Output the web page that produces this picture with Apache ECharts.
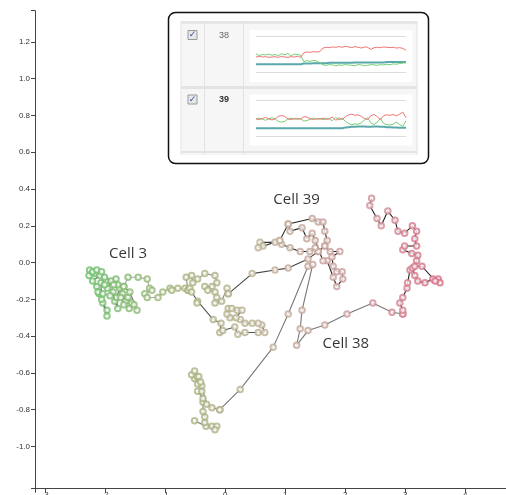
<!DOCTYPE html>
<html>
<head>
<meta charset="utf-8">
<script src="https://cdn.jsdelivr.net/npm/echarts@6/dist/echarts.min.js"></script>
<style>
  html, body { margin: 0; padding: 0; background: #fff; overflow: hidden; }
  #chart { width: 506px; height: 495px; }
</style>
</head>
<body>
<div id="chart"></div>
<script>
// --- track pieces, [x, y] ---
const cell3Cluster = [[-2.26,-0.04],[-2.27,-0.07],[-2.17,-0.06],[-2.09,-0.07],[-2.21,-0.10],[-2.14,-0.13],[-2.10,-0.17],[-2.04,-0.22],[-1.97,-0.26],[-1.97,-0.29],[-2.06,-0.20],[-2.07,-0.11],[-1.99,-0.10],[-2.01,-0.08],[-1.90,-0.10],[-1.96,-0.14],[-1.87,-0.16],[-1.84,-0.21],[-1.79,-0.25],[-1.81,-0.19],[-1.76,-0.14],[-1.79,-0.12],[-1.71,-0.17],[-1.66,-0.21],[-1.62,-0.19],[-1.56,-0.22],[-1.47,-0.26],[-1.59,-0.16],[-1.69,-0.13]];
const cell3Extra = [[-2.21,-0.05],[-2.14,-0.04],[-2.06,-0.05],[-2.01,-0.12],[-2.12,-0.16],[-2.04,-0.17],[-1.92,-0.18],[-1.86,-0.12],[-1.82,-0.09],[-1.74,-0.19],[-1.69,-0.23],[-1.60,-0.25],[-1.52,-0.23]];
const cell3Trail = [[-1.69,-0.13],[-1.62,-0.08],[-1.45,-0.08],[-1.30,-0.09],[-1.26,-0.14],[-1.22,-0.15],[-1.34,-0.17],[-1.30,-0.19],[-1.12,-0.19],[-1.04,-0.16],[-0.92,-0.14],[-0.89,-0.15],[-0.79,-0.14],[-0.67,-0.14],[-0.62,-0.15]];
const oliveUpper = [[-0.62,-0.15],[-0.59,-0.14],[-0.65,-0.08],[-0.56,-0.07],[-0.54,-0.11],[-0.46,-0.09],[-0.34,-0.06],[-0.17,-0.07],[-0.14,-0.11],[-0.22,-0.13],[-0.34,-0.13],[-0.29,-0.15],[-0.17,-0.16],[-0.14,-0.19],[-0.17,-0.22],[-0.06,-0.21],[0.03,-0.14],[0.05,-0.17]];
const oliveToCell39 = [[0.05,-0.17],[0.45,-0.06],[0.83,-0.04],[1.05,-0.03],[1.38,0.02],[1.55,0.06]];
const oliveLower = [[-0.56,-0.16],[-0.46,-0.21],[-0.47,-0.22],[-0.20,-0.31],[-0.07,-0.33],[-0.09,-0.38],[-0.04,-0.37],[0.16,-0.35],[0.21,-0.39],[0.33,-0.38],[0.55,-0.38],[0.66,-0.38],[0.61,-0.34],[0.55,-0.33],[0.45,-0.33],[0.33,-0.33],[0.25,-0.31],[0.08,-0.30],[0.03,-0.28],[0.05,-0.25],[0.11,-0.25],[0.20,-0.26],[0.28,-0.26],[0.18,-0.30]];
const bottomCluster = [[-0.51,-0.86],[-0.32,-0.89],[-0.22,-0.89],[-0.14,-0.89],[-0.17,-0.91],[-0.34,-0.87],[-0.34,-0.84],[-0.37,-0.81],[-0.37,-0.76],[-0.37,-0.74],[-0.46,-0.70],[-0.39,-0.70],[-0.39,-0.67],[-0.46,-0.66],[-0.51,-0.63],[-0.47,-0.62],[-0.56,-0.61],[-0.51,-0.59],[-0.44,-0.62],[-0.41,-0.65],[-0.31,-0.77],[-0.22,-0.79],[-0.09,-0.80]];
const cell38Path = [[-0.09,-0.80],[0.25,-0.69],[0.80,-0.46],[1.05,-0.28],[1.38,-0.02],[1.46,-0.01],[1.28,-0.26],[1.25,-0.36],[1.19,-0.45],[1.38,-0.37],[1.66,-0.34],[2.03,-0.28],[2.46,-0.22],[2.78,-0.27],[2.96,-0.28]];
const pinkCluster = [[2.96,-0.28],[2.96,-0.26],[2.91,-0.22],[2.96,-0.19],[3.03,-0.14],[3.04,-0.11],[3.08,-0.04],[3.12,-0.03],[3.16,-0.07],[3.21,-0.10],[3.33,-0.11],[3.46,-0.09],[3.55,-0.09],[3.58,-0.11],[3.50,-0.10],[3.28,-0.02],[3.16,-0.02],[3.19,0.01],[3.21,0.04],[3.11,0.05],[2.96,0.07],[2.99,0.09],[3.19,0.09],[3.16,0.13],[3.19,0.17],[3.12,0.20],[2.99,0.16],[2.88,0.17],[2.83,0.23],[2.71,0.28],[2.60,0.20],[2.53,0.24],[2.41,0.31],[2.44,0.35]];
const cell39Cluster = [[1.55,0.06],[1.66,0.09],[1.75,0.06],[1.91,0.06],[1.78,0.03],[1.80,-0.02],[1.86,-0.05],[1.95,-0.05],[1.96,-0.09],[1.86,-0.13],[1.80,-0.08],[1.70,0.01],[1.63,0.01],[1.50,0.12],[1.45,0.16],[1.36,0.13],[1.28,0.19],[1.08,0.17],[1.05,0.21],[1.45,0.24],[1.55,0.22],[1.63,0.22],[1.66,0.17],[1.70,0.12],[1.66,0.09]];
const cell39Left = [[1.50,0.08],[1.41,0.06],[1.25,0.06],[1.08,0.08],[0.94,0.10],[0.91,0.12],[0.83,0.11],[0.58,0.11],[0.63,0.09],[0.55,0.08],[0.91,0.12],[1.05,0.21]];

// 注释标签
const cellLabels = [
  { name: 'Cell 3', value: [-1.62, 0.05] },
  { name: 'Cell 39', value: [1.19, 0.34] },
  { name: 'Cell 38', value: [2.01, -0.44] }
];

// axis ticks (with the two outer ticks at the axis ends)
const xMin = -3.17, xMax = 4.68;
const yMin = -1.23, yMax = 1.37;
const xTickLabels = [-3, -2, -1, 0, 1, 2, 3, 4];
const yTickLabels = [-1.0, -0.8, -0.6, -0.4, -0.2, 0.0, 0.2, 0.4, 0.6, 0.8, 1.0, 1.2];

// --- inset sparklines (38 / 39) ---
const red38 = [0.43,0.45,0.43,0.44,0.42,0.43,0.44,0.42,0.45,0.43,0.42,0.44,0.43,0.45,0.42,0.55,0.57,0.56,0.58,0.57,0.58,0.68,0.70,0.69,0.71,0.70,0.72,0.70,0.73,0.71,0.69,0.72,0.70,0.68,0.71,0.70,0.64,0.69,0.70,0.69,0.71,0.70,0.69,0.70,0.68,0.69,0.67,0.62];
const green38 = [0.52,0.47,0.50,0.49,0.51,0.48,0.50,0.47,0.52,0.49,0.53,0.46,0.51,0.50,0.48,0.30,0.33,0.31,0.34,0.32,0.27,0.21,0.20,0.22,0.21,0.19,0.21,0.20,0.22,0.21,0.20,0.19,0.22,0.21,0.19,0.20,0.22,0.21,0.20,0.22,0.21,0.23,0.22,0.24,0.23,0.25,0.26,0.27];
const teal38 = [0.23,0.23,0.23,0.23,0.23,0.23,0.23,0.23,0.23,0.23,0.23,0.23,0.23,0.23,0.23,0.25,0.25,0.25,0.26,0.26,0.26,0.26,0.26,0.27,0.27,0.27,0.27,0.27,0.27,0.27,0.27,0.28,0.28,0.28,0.28,0.28,0.28,0.28,0.28,0.28,0.28,0.29,0.29,0.29,0.29,0.29,0.29,0.29];
const red39 = [0.49,0.47,0.50,0.53,0.49,0.46,0.49,0.56,0.58,0.56,0.49,0.47,0.50,0.48,0.49,0.55,0.54,0.49,0.47,0.50,0.48,0.51,0.47,0.50,0.54,0.45,0.52,0.47,0.55,0.60,0.62,0.59,0.60,0.56,0.50,0.47,0.58,0.61,0.55,0.47,0.58,0.60,0.59,0.61,0.57,0.62,0.68,0.52];
const green39 = [0.49,0.51,0.48,0.45,0.49,0.52,0.49,0.42,0.40,0.42,0.49,0.51,0.48,0.50,0.49,0.43,0.44,0.49,0.51,0.48,0.50,0.47,0.51,0.48,0.44,0.53,0.46,0.51,0.42,0.36,0.33,0.35,0.34,0.38,0.46,0.52,0.38,0.33,0.40,0.50,0.36,0.33,0.32,0.34,0.40,0.33,0.28,0.44];
const teal39 = [0.23,0.23,0.23,0.23,0.23,0.23,0.23,0.23,0.23,0.23,0.23,0.23,0.23,0.23,0.23,0.23,0.23,0.23,0.23,0.23,0.23,0.23,0.23,0.23,0.23,0.23,0.23,0.23,0.25,0.26,0.27,0.27,0.28,0.28,0.28,0.27,0.27,0.28,0.28,0.27,0.27,0.26,0.26,0.25,0.25,0.24,0.24,0.24];
const insetRows = ['38', '39'];

const chart = echarts.init(document.getElementById('chart'), null, { width: 506, height: 495 });

// 连线：深色为簇内，浅色为长距离移动
const pieces = [
  { data: cell3Cluster, color: '#666' },
  { data: cell3Extra, color: '#aaa' },
  { data: cell3Trail, color: '#a8a8a8' },
  { data: oliveUpper, color: '#8a8a8a' },
  { data: oliveToCell39, color: '#444' },
  { data: oliveLower, color: '#555' },
  { data: bottomCluster, color: '#777' },
  { data: cell38Path, color: '#777' },
  { data: pinkCluster, color: '#222' },
  { data: cell39Cluster, color: '#222' },
  { data: cell39Left, color: '#333' }
];

const lineSeries = pieces.map(p => ({
  type: 'line',
  data: p.data,
  symbol: 'none',
  silent: true,
  lineStyle: { color: p.color, width: 1.1 },
  z: 2
}));

const allPoints = [];
pieces.forEach(p => p.data.forEach(d => allPoints.push(d)));

const pointIndex = lineSeries.length;

const toPairs = arr => arr.map((v, i) => [i, v]);
const sparkLine = (arr, color, width, idx) => ({
  type: 'line',
  data: toPairs(arr),
  xAxisIndex: idx,
  yAxisIndex: idx,
  symbol: 'none',
  silent: true,
  lineStyle: { color: color, width: width },
  z: 3
});

const labelFont = 'Liberation Sans, Arial, sans-serif';

// --- inset box / table as graphic ---
const inset = [
  { type: 'rect', shape: { x: 168.5, y: 12.5, width: 260, height: 151, r: 7 }, style: { fill: '#fff', stroke: '#111', lineWidth: 1.5 } },
  { type: 'rect', shape: { x: 181, y: 21, width: 236, height: 134 }, style: { fill: '#f6f6f6' } },
  { type: 'rect', shape: { x: 249.5, y: 30, width: 163, height: 52 }, style: { fill: '#fff' } },
  { type: 'rect', shape: { x: 249.5, y: 94.5, width: 163, height: 51 }, style: { fill: '#fff' } },
  { type: 'line', shape: { x1: 181, y1: 22.5, x2: 417, y2: 22.5 }, style: { stroke: '#e6e6e6', lineWidth: 3 } },
  { type: 'line', shape: { x1: 181, y1: 87.5, x2: 417, y2: 87.5 }, style: { stroke: '#e4e4e4', lineWidth: 3 } },
  { type: 'line', shape: { x1: 181, y1: 152, x2: 417, y2: 152 }, style: { stroke: '#e4e4e4', lineWidth: 2 } },
  { type: 'line', shape: { x1: 181, y1: 21, x2: 181, y2: 155 }, style: { stroke: '#e2e2e2', lineWidth: 1 } },
  { type: 'line', shape: { x1: 204.5, y1: 21, x2: 204.5, y2: 155 }, style: { stroke: '#e2e2e2', lineWidth: 1 } },
  { type: 'line', shape: { x1: 243.5, y1: 21, x2: 243.5, y2: 155 }, style: { stroke: '#e2e2e2', lineWidth: 1 } },
  { type: 'line', shape: { x1: 417, y1: 21, x2: 417, y2: 155 }, style: { stroke: '#e2e2e2', lineWidth: 1 } },
  // sparkline guide lines
  { type: 'line', shape: { x1: 256, y1: 36.5, x2: 406, y2: 36.5 }, style: { stroke: '#dcdcdc', lineWidth: 1 } },
  { type: 'line', shape: { x1: 256, y1: 72.5, x2: 406, y2: 72.5 }, style: { stroke: '#dcdcdc', lineWidth: 1 } },
  { type: 'line', shape: { x1: 256, y1: 100.5, x2: 406, y2: 100.5 }, style: { stroke: '#dcdcdc', lineWidth: 1 } },
  { type: 'line', shape: { x1: 256, y1: 136.5, x2: 406, y2: 136.5 }, style: { stroke: '#dcdcdc', lineWidth: 1 } }
];
insetRows.forEach((name, i) => {
  const y0 = i === 0 ? 30.5 : 95;
  inset.push({ type: 'rect', shape: { x: 188, y: y0, width: 9, height: 9 }, style: { fill: '#e8e8e8', stroke: '#9a9a9a', lineWidth: 1 } });
  inset.push({ type: 'text', style: { text: '✓', x: 192.5, y: y0 + 4.5, fill: '#2d4fa0', font: 'bold 9px DejaVu Sans', textAlign: 'center', textVerticalAlign: 'middle', align: 'center', verticalAlign: 'middle' } });
  inset.push({ type: 'text', style: { text: name, x: 224, y: y0 + 5, fill: i === 0 ? '#666' : '#333', font: (i === 0 ? '' : 'bold ') + '9px ' + labelFont, textAlign: 'center', textVerticalAlign: 'middle', align: 'center', verticalAlign: 'middle' } });
});

const sparkAxisX = idx => ({ type: 'value', gridIndex: idx, min: 0, max: red38.length - 1, show: false });
const sparkAxisY = idx => ({ type: 'value', gridIndex: idx, min: 0, max: 1, show: false });

const option = {
  animation: false,
  backgroundColor: '#fff',
  grid: [
    { left: 35, top: 10.7, right: 0, bottom: 6.3, containLabel: false, outerBoundsMode: 'none' },
    { left: 256, top: 36.5, width: 150, height: 36, outerBoundsMode: 'none' },
    { left: 256, top: 100.5, width: 150, height: 36, outerBoundsMode: 'none' }
  ],
  xAxis: [
    {
      type: 'value',
      min: xMin,
      max: xMax,
      axisLine: { onZero: false, lineStyle: { color: '#444', width: 1 } },
      axisTick: { show: true, length: 4, customValues: [xMin, ...xTickLabels], lineStyle: { color: '#444' } },
      axisLabel: {
        color: '#333',
        fontSize: 8,
        fontFamily: labelFont,
        margin: 2,
        customValues: xTickLabels,
        formatter: v => String(Math.round(v))
      },
      splitLine: { show: false }
    },
    sparkAxisX(1),
    sparkAxisX(2)
  ],
  yAxis: [
    {
      type: 'value',
      min: yMin,
      max: yMax,
      axisLine: { onZero: false, lineStyle: { color: '#444', width: 1 } },
      axisTick: { show: true, length: 4, customValues: [yMin, ...yTickLabels, yMax], lineStyle: { color: '#444' } },
      axisLabel: {
        color: '#333',
        fontSize: 8,
        fontFamily: labelFont,
        margin: 5,
        customValues: yTickLabels,
        formatter: v => v.toFixed(1)
      },
      splitLine: { show: false }
    },
    sparkAxisY(1),
    sparkAxisY(2)
  ],
  visualMap: {
    show: false,
    type: 'continuous',
    seriesIndex: pointIndex,
    dimension: 0,
    min: -2.3,
    max: 3.6,
    inRange: { color: ['#6cc06c', '#a6b47c', '#bdb096', '#cc9a9c', '#da6a84'] }
  },
  graphic: { elements: inset },
  series: [
    ...lineSeries,
    {
      type: 'scatter',
      data: allPoints,
      symbol: 'emptyCircle',
      symbolSize: 5.5,
      silent: true,
      itemStyle: { borderWidth: 0.9 },
      z: 4
    },
    {
      type: 'scatter',
      data: cellLabels,
      symbolSize: 0,
      silent: true,
      label: {
        show: true,
        position: 'inside',
        formatter: p => p.name,
        color: '#000',
        fontSize: 15,
        fontFamily: 'Open Sans'
      },
      z: 5
    },
    sparkLine(teal38, '#5aa9aa', 2, 1),
    sparkLine(green38, '#74cf74', 1, 1),
    sparkLine(red38, '#f07474', 1, 1),
    sparkLine(teal39, '#5aa9aa', 2, 2),
    sparkLine(green39, '#74cf74', 1, 2),
    sparkLine(red39, '#f07474', 1, 2)
  ]
};

chart.setOption(option);
</script>
</body>
</html>
